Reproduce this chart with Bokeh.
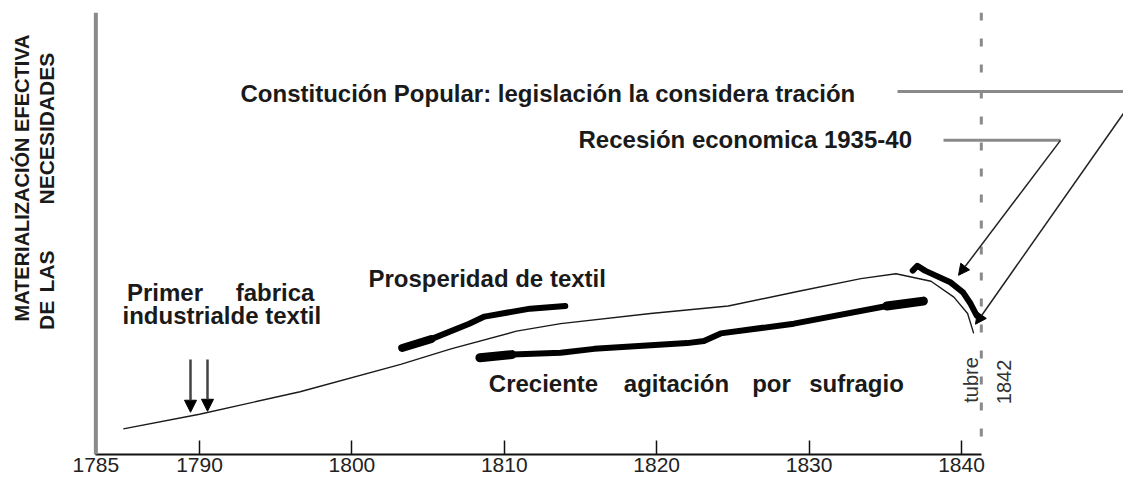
import math
from bokeh.plotting import figure
from bokeh.models import Range1d, FixedTicker, Span, Label, Arrow, NormalHead
from bokeh.embed import file_html
from bokeh.resources import INLINE

# ---------------- data (years / relative level 0-100) ----------------
tick_years = [1790, 1800, 1810, 1820, 1830, 1840]
tick_labels = ["1790", "1800", "1810", "1820", "1830", "1840"]
axis_origin_year = 1783.2          # corner of the axes, labelled "1785"
axis_origin_label = "1785"
axis_end_year = 1841.3
marker_year = 1841.3               # "tubre 1842" dashed marker

curve_years = [1785.0, 1790.0, 1796.6, 1803.2, 1806.5, 1810.8, 1813.7, 1819.6,
               1824.7, 1829.4, 1833.4, 1835.7, 1838.0, 1839.5, 1840.4, 1840.8]
curve_level = [5.8, 9.1, 14.2, 20.4, 23.9, 27.9, 29.6, 31.9,
               33.6, 37.0, 39.8, 40.9, 39.2, 35.6, 31.9, 27.4]

prosperidad_years = [1803.3, 1805.2, 1807.7, 1808.7, 1811.7, 1814.0]
prosperidad_level = [24.1, 26.1, 29.6, 31.2, 33.0, 33.6]

sufragio_years = [1808.4, 1810.5, 1813.7, 1815.9, 1822.0, 1823.1, 1824.2, 1829.0, 1835.1, 1837.5]
sufragio_level = [21.9, 22.6, 23.0, 23.9, 25.2, 25.7, 27.4, 29.6, 33.6, 34.7]

recesion_years = [1836.8, 1837.1, 1837.6, 1839.3, 1840.1, 1840.6, 1841.0]
recesion_level = [41.6, 42.7, 41.6, 38.9, 36.7, 34.1, 31.4]

# ---------------- layout helpers (reference pixel -> data) ----------------
W, H = 1123, 482
TOP, BOTTOM_BORDER = 12, 28
FRAME_BOTTOM = H - BOTTOM_BORDER
S = FRAME_BOTTOM / 464.2          # slight vertical squeeze so the tick labels fit
PX_PER_YEAR = 15.24

def X(px):
    return 1790 + (px - 199) / PX_PER_YEAR

def Y(py):
    return (FRAME_BOTTOM - S * py) / (FRAME_BOTTOM - TOP) * 100

FONT = "Liberation Sans"
INK = "#1a1a1a"
GRAY = "#8a8a8a"

p = figure(width=W, height=H, x_range=Range1d(X(0), X(W)), y_range=Range1d(0, 100),
           output_backend="svg", toolbar_location=None, y_axis_location=None,
           min_border_left=0, min_border_right=0, min_border_top=TOP,
           min_border_bottom=BOTTOM_BORDER)
p.outline_line_color = None
p.xgrid.visible = False
p.ygrid.visible = False
p.background_fill_color = "white"
p.border_fill_color = "white"

ax = p.xaxis[0]
ax.ticker = FixedTicker(ticks=[axis_origin_year] + tick_years)
overrides = {axis_origin_year: axis_origin_label}
for v, t in zip(tick_years, tick_labels):
    overrides[v] = t
ax.major_label_overrides = overrides
ax.bounds = (axis_origin_year, axis_end_year)
ax.axis_line_color = "#111111"
ax.axis_line_width = 2
ax.major_tick_in = 14
ax.major_tick_out = 0
ax.major_tick_line_color = "#111111"
ax.major_tick_line_width = 1.5
ax.minor_tick_line_color = None
ax.major_label_standoff = 3
ax.major_label_text_font = FONT
ax.major_label_text_font_size = "21px"
ax.major_label_text_color = "#222222"

# y axis line and dashed marker
p.add_layout(Span(location=axis_origin_year, dimension="height", line_color=GRAY, line_width=4))
p.add_layout(Span(location=marker_year, dimension="height", line_color=GRAY, line_width=3,
                  line_dash="8 18"))

# main curve and thick strokes
p.line(curve_years, curve_level, line_color=INK, line_width=1.4)
stroke = dict(line_color="black", line_cap="round", line_join="round")
p.line(prosperidad_years, prosperidad_level, line_width=6, **stroke)
p.line(prosperidad_years[:2], prosperidad_level[:2], line_width=8, **stroke)
p.line(sufragio_years, sufragio_level, line_width=6, **stroke)
p.line(sufragio_years[:2], sufragio_level[:2], line_width=9, **stroke)
p.line(sufragio_years[-2:], sufragio_level[-2:], line_width=9, **stroke)
p.line(recesion_years, recesion_level, line_width=6, **stroke)

# callout lines
p.line([X(897), X(1139)], [Y(93), Y(93)], line_color=GRAY, line_width=3)
p.line([X(943), X(1060)], [Y(143), Y(143)], line_color=GRAY, line_width=3)

def arrow(x0, y0, x1, y1, color="#222222", width=1.5, size=11):
    p.add_layout(Arrow(x_start=x0, y_start=y0, x_end=x1, y_end=y1, line_color=color,
                       line_width=width,
                       end=NormalHead(size=size, fill_color="black", line_color="black")))

arrow(X(1137), Y(95), X(975), Y(331))
arrow(X(1060), Y(143), X(958), Y(281))
arrow(X(190), Y(367), X(190), Y(421), color="#444444", width=2.5, size=12)
arrow(X(207), Y(367), X(207), Y(420), color="#444444", width=2.5, size=12)

def label(x, y, text, size="24px", style="bold", align="left", baseline="middle",
          angle=0.0, color=INK):
    p.add_layout(Label(x=x, y=y, text=text, text_font=FONT, text_font_size=size,
                       text_font_style=style, text_align=align, text_baseline=baseline,
                       angle=angle, angle_units="rad", text_color=color))

up = math.pi / 2
label(X(21), Y(181.5), "MATERIALIZACIÓN EFECTIVA", size="20px", align="center", angle=up)
label(X(46), Y(322), "DE", size="21px", align="center", angle=up)
label(X(46), Y(277), "LAS", size="21px", align="center", angle=up)
label(X(46), Y(131), "NECESIDADES", size="21px", align="center", angle=up)

label(X(240), Y(95), "Constitución Popular: legislación la considera tración")
label(X(578), Y(142), "Recesión economica 1935-40")
label(X(368), Y(284), "Prosperidad de textil")
label(X(164.5), Y(299), "Primer", align="center")
label(X(274.5), Y(299), "fabrica", align="center")
label(X(122), Y(322), "industrialde textil")
label(X(543), Y(392), "Creciente", align="center")
label(X(676), Y(392), "agitación", align="center")
label(X(771), Y(392), "por", align="center")
label(X(856), Y(392), "sufragio", align="center")

label(X(970), Y(388), "tubre", size="20px", style="normal", align="center",
      angle=up, color="#333333")
label(X(1003), Y(390), "1842", size="20px", style="normal", align="center",
      angle=up, color="#333333")

open("out.html", "w").write(file_html(p, INLINE))
